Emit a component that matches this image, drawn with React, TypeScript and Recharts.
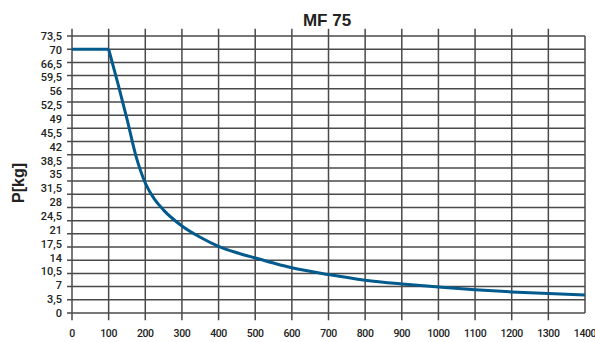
import React from 'react';
import { LineChart, Line, XAxis, YAxis, ReferenceLine, Customized } from 'recharts';

// speed values (x) and load P[kg] (y)
const speed = [0, 100, 125, 150, 175, 200, 225, 250, 300, 350, 400, 450, 500, 550, 600, 700, 800, 900, 1000, 1100, 1200, 1300, 1400];
const load = [70, 70, 61, 51.5, 41.5, 34.5, 30.2, 27.3, 23.1, 20.1, 17.7, 16.0, 14.6, 13.25, 12, 10.2, 8.7, 7.7, 6.9, 6.2, 5.6, 5.15, 4.8];
// the flat part ends at this speed
const kneeSpeed = 100;

const xTicks = [0, 100, 200, 300, 400, 500, 600, 700, 800, 900, 1000, 1100, 1200, 1300, 1400];
// printed y labels (bottom to top), evenly spread along the axis as in the original
const yTickLabels = ['0', '3,5', '7', '10,5', '14', '17,5', '21', '24,5', '28', '31,5', '35', '38,5', '42', '45,5', '49', '52,5', '56', '59,5', '66,5', '70', '73,5'];
// horizontal grid lines
const gridY = [0, 3.5, 7, 10.5, 14, 17.5, 21, 24.5, 28, 31.5, 35, 38.5, 42, 45.5, 49, 52.5, 56, 59.5, 63, 66.5, 70, 73.5];

const title = 'MF 75';
const yTitle = 'P[kg]';

const Y_MAX = 73.5;
const X_MAX = 1400;

const data = speed.map((s, i) => ({
  s,
  flat: s <= kneeSpeed ? load[i] : null,
  curve: s >= kneeSpeed ? load[i] : null,
}));
const yTickPositions = yTickLabels.map((_, i) => (i * Y_MAX) / (yTickLabels.length - 1));

const GRID = '#4a4a4a';
const LINE = '#035a8c';
const tickStyle = { fontFamily: 'Roboto', fontWeight: 500, fontSize: 11, fill: '#222' };

const XTick = (props: any) => {
  const { x, y, payload } = props;
  return (
    <text
      x={x}
      y={y}
      dy="0.71em"
      textAnchor="middle"
      fontFamily="Roboto"
      fontWeight={500}
      fontSize={10.5}
      fill="#222"
      style={{ letterSpacing: '-0.4px' }}
    >
      {payload.value}
    </text>
  );
};

export default function App() {
  return (
    <div style={{ width: 595, height: 342 }}>
      <style>{`body{margin:0}`}</style>
      <LineChart width={595} height={342} data={data} margin={{ top: 36, right: 10, left: 0, bottom: 0 }}>
        <XAxis
          dataKey="s"
          type="number"
          domain={[0, X_MAX]}
          ticks={xTicks}
          allowDataOverflow
          axisLine={false}
          tickLine={false}
          tickSize={0}
          tickMargin={17}
          height={29}
          interval={0}
          tick={<XTick />}
        />
        <YAxis
          type="number"
          domain={[0, Y_MAX]}
          ticks={yTickPositions}
          allowDataOverflow
          interval={0}
          axisLine={false}
          tickLine={false}
          tickSize={0}
          tickMargin={10}
          width={72}
          tickFormatter={(v: number) => yTickLabels[Math.round((v * (yTickLabels.length - 1)) / Y_MAX)]}
          tick={tickStyle}
        />
        {gridY.map((g) => (
          <ReferenceLine
            key={'h' + g}
            segment={[{ x: -13.6, y: g }, { x: X_MAX, y: g }]}
            ifOverflow="visible"
            stroke={GRID}
            strokeWidth={1.5}
          />
        ))}
        {xTicks.map((t) => (
          <ReferenceLine
            key={'v' + t}
            segment={t < X_MAX ? [{ x: t, y: -1.9 }, { x: t, y: Y_MAX + 1.9 }] : [{ x: t, y: 0 }, { x: t, y: Y_MAX }]}
            ifOverflow="visible"
            stroke={GRID}
            strokeWidth={1.5}
          />
        ))}
        <Line type="linear" dataKey="flat" stroke={LINE} strokeWidth={3} dot={false} isAnimationActive={false} connectNulls={false} />
        <Line type="monotone" dataKey="curve" stroke={LINE} strokeWidth={3} dot={false} isAnimationActive={false} connectNulls={false} />
        <Customized
          component={() => (
            <g>
              <text x={327} y={26} textAnchor="middle" fontFamily="Liberation Sans, Arial, sans-serif" fontWeight="bold" fontSize={17} fill="#222">
                {title}
              </text>
              <text
                x={24}
                y={183}
                textAnchor="middle"
                transform="rotate(-90, 24, 183)"
                fontFamily="Liberation Sans, Arial, sans-serif"
                fontWeight="bold"
                fontSize={16}
                fill="#222"
              >
                {yTitle}
              </text>
            </g>
          )}
        />
      </LineChart>
    </div>
  );
}
